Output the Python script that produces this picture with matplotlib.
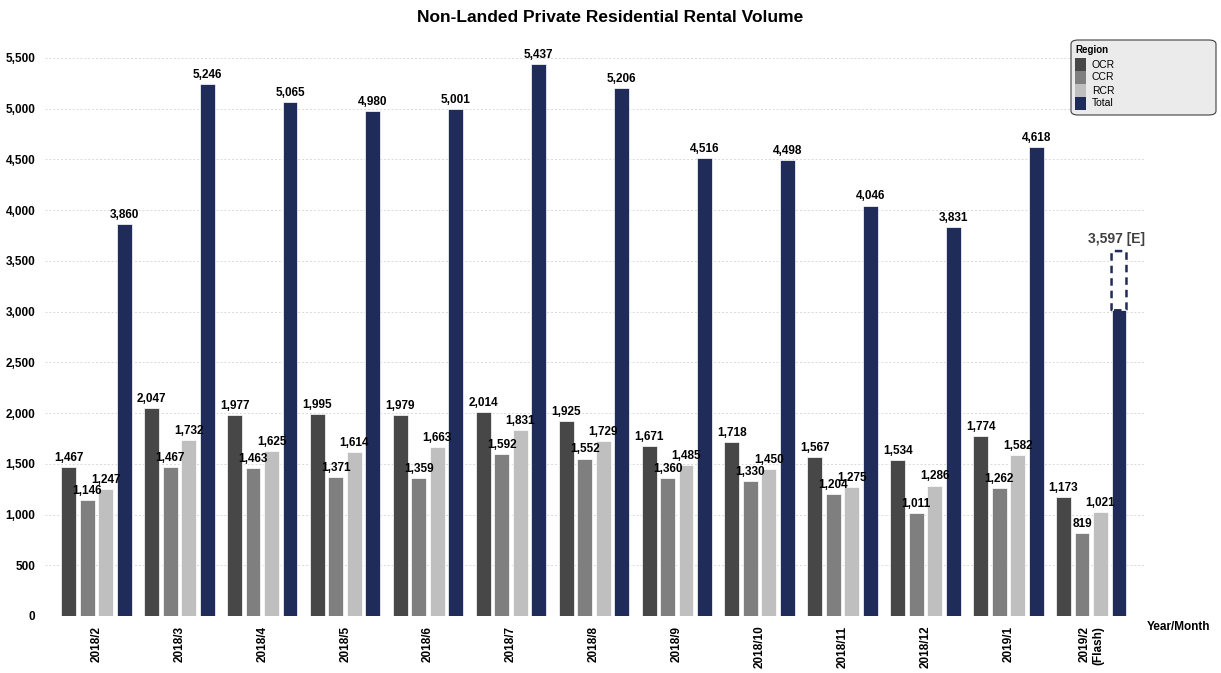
import matplotlib
matplotlib.use("Agg")
import matplotlib.pyplot as plt
from matplotlib.patches import Rectangle, FancyBboxPatch
import numpy as np

plt.rcParams['font.family'] = ['Liberation Sans', 'DejaVu Sans']

months = ['2018/2', '2018/3', '2018/4', '2018/5', '2018/6', '2018/7', '2018/8',
          '2018/9', '2018/10', '2018/11', '2018/12', '2019/1', '2019/2\n(Flash)']
ocr = [1467, 2047, 1977, 1995, 1979, 2014, 1925, 1671, 1718, 1567, 1534, 1774, 1173]
ccr = [1146, 1467, 1463, 1371, 1359, 1592, 1552, 1360, 1330, 1204, 1011, 1262, 819]
rcr = [1247, 1732, 1625, 1614, 1663, 1831, 1729, 1485, 1450, 1275, 1286, 1582, 1021]
total = [3860, 5246, 5065, 4980, 5001, 5437, 5206, 4516, 4498, 4046, 3831, 4618, 3597]
estimated = [False] * 12 + [True]

names = ['OCR', 'CCR', 'RCR', 'Total']
colors = {'OCR': '#474747', 'CCR': '#7f7f7f', 'RCR': '#bfbfbf', 'Total': '#1f2c5a'}

W, H = 1221, 673
fig = plt.figure(figsize=(W / 100, H / 100), dpi=100)
ax = fig.add_axes([45 / W, 57 / H, 1100 / W, (616 - 37.7) / H])

x = np.arange(len(months))
step = 0.223
width = 0.18
lab_fs = 8.5

series = [('OCR', ocr), ('CCR', ccr), ('RCR', rcr)]
for k, (name, vals) in enumerate(series):
    pos = x + (k - 1.5) * step
    ax.bar(pos, vals, width, color=colors[name], edgecolor='white', linewidth=0.5, zorder=3)
    for p, v in zip(pos, vals):
        ax.text(p, v + 30, f'{v:,}', ha='center', va='bottom', fontsize=lab_fs,
                fontweight='bold', color='black', zorder=5)

# total bars: flash month shows the sum of regions solid, the estimate dashed on top
tpos = x + 1.5 * step
solid = [t if not e else o + c + r for t, e, o, c, r in zip(total, estimated, ocr, ccr, rcr)]
ax.bar(tpos, solid, width, color=colors['Total'], edgecolor='white', linewidth=0.5, zorder=3)
for p, t, s, e in zip(tpos, total, solid, estimated):
    if e:
        box = FancyBboxPatch((p - width / 2, s), width, t - s,
                             boxstyle='round,pad=0,rounding_size=0.03',
                             mutation_aspect=200,
                             facecolor='white', edgecolor=colors['Total'],
                             linestyle=(0, (3, 2)), linewidth=1.8, zorder=4)
        ax.add_patch(box)
        ax.text(p - 0.03, t + 50, f'{t:,} [E]', ha='center', va='bottom', fontsize=10,
                fontweight='bold', color='#404040', zorder=5)
    else:
        ax.text(p, t + 30, f'{t:,}', ha='center', va='bottom', fontsize=lab_fs,
                fontweight='bold', color='black', zorder=5)

ax.set_ylim(0, 5700)
ax.set_xlim(-0.621, 12.648)
ax.set_yticks(np.arange(0, 5501, 500))
ax.set_yticklabels([f'{v:,}' for v in range(0, 5501, 500)], fontsize=8.5, fontweight='bold')
ax.set_xticks(x)
ax.set_xticklabels(months, rotation=90, ha='center', va='top', multialignment='right',
                   fontsize=8.5, fontweight='bold')
ax.tick_params(axis='both', length=0, pad=7)
ax.grid(axis='y', color='#d9d9d9', linestyle=(0, (2, 2)), linewidth=0.7, zorder=0)
for s in ax.spines.values():
    s.set_visible(False)

fig.text(1147 / W, 1 - 627 / H, 'Year/Month', ha='left', va='center',
         fontsize=8.5, fontweight='bold')
fig.text(0.5, 1 - 17 / H, 'Non-Landed Private Residential Rental Volume',
         ha='center', va='center', fontsize=12.5, fontweight='bold')

# legend box drawn by hand to match the wide grey panel
fig.patches.append(FancyBboxPatch((1071 / W, 1 - 115 / H), 145 / W, 75 / H,
                                  boxstyle='round,pad=0,rounding_size=0.006',
                                  transform=fig.transFigure, facecolor='#ebebeb',
                                  edgecolor='#404040', linewidth=0.8, zorder=10))
fig.text(1075 / W, 1 - 50 / H, 'Region', ha='left', va='center', fontsize=7,
         fontweight='bold', zorder=11)
for i, n in enumerate(names):
    top = 58 + i * 13
    fig.patches.append(Rectangle((1075 / W, 1 - (top + 13) / H), 11 / W, 12.5 / H,
                                 transform=fig.transFigure, facecolor=colors[n],
                                 edgecolor='none', zorder=11))
    fig.text(1092 / W, 1 - (top + 6.5) / H, n, ha='left', va='center', fontsize=7.5,
             zorder=11)

fig.savefig('out.png', dpi=100)
